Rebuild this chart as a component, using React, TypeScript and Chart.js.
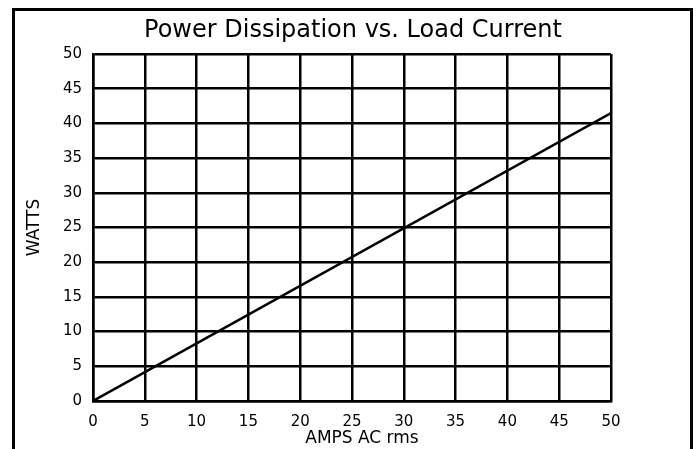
import React, { useEffect, useRef } from "react";
import { Chart, registerables } from "chart.js";

Chart.register(...registerables);

const amps = [0, 50];
const watts = [0, 41.5];
const chartTitle = "Power Dissipation vs. Load Current";
const xTitle = "AMPS AC rms";
const yTitle = "WATTS";

const FONT = "'DejaVu Sans', sans-serif";

const textPlugin = {
  id: "customText",
  afterDraw(chart: any) {
    const { ctx, chartArea } = chart;
    const cx = (chartArea.left + chartArea.right) / 2;
    const cy = (chartArea.top + chartArea.bottom) / 2;
    ctx.save();
    ctx.fillStyle = "#000";
    ctx.textAlign = "center";
    ctx.textBaseline = "middle";
    ctx.font = `24px ${FONT}`;
    ctx.fillText(chartTitle, cx + 1, 31);
    ctx.font = `17px ${FONT}`;
    ctx.fillText(xTitle, cx + 10, 439);
    ctx.translate(35, cy);
    ctx.rotate(-Math.PI / 2);
    ctx.fillText(yTitle, 0, 0);
    ctx.restore();
  },
};

export default function App() {
  const ref = useRef<HTMLCanvasElement | null>(null);
  useEffect(() => {
    if (!ref.current) return;
    const chart = new Chart(ref.current, {
      type: "scatter",
      data: {
        datasets: [
          {
            data: amps.map((a, i) => ({ x: a, y: watts[i] })),
            showLine: true,
            borderColor: "#000",
            borderWidth: 2.5,
            pointRadius: 0,
            fill: false,
          },
        ],
      },
      options: {
        animation: false,
        responsive: false,
        events: [],
        layout: { padding: { left: 0, right: 85, top: 54, bottom: 0 } },
        plugins: { legend: { display: false }, tooltip: { enabled: false }, title: { display: false } },
        scales: {
          x: {
            type: "linear",
            min: 0,
            max: 50,
            afterFit: (s: any) => {
              s.height = 48;
            },
            ticks: { stepSize: 5, color: "#000", font: { family: FONT, size: 15 }, padding: 12, maxRotation: 0 },
            grid: { color: "#000", lineWidth: 2.5, drawTicks: false, tickLength: 0 },
            border: { color: "#000", width: 2.5 },
          },
          y: {
            type: "linear",
            min: 0,
            max: 50,
            afterFit: (s: any) => {
              s.width = 93;
            },
            ticks: { stepSize: 5, color: "#000", font: { family: FONT, size: 15 }, padding: 11 },
            grid: { color: "#000", lineWidth: 2.5, drawTicks: false, tickLength: 0 },
            border: { color: "#000", width: 2.5 },
          },
        },
      },
      plugins: [textPlugin],
    });
    return () => chart.destroy();
  }, []);
  return (
    <div style={{ position: "absolute", left: 0, top: 0, width: 696, height: 449, background: "#fff", overflow: "hidden" }}>
      <div
        style={{
          position: "absolute",
          left: 12,
          top: 8,
          width: 681,
          height: 460,
          boxSizing: "border-box",
          border: "3px solid #000",
        }}
      />
      <canvas ref={ref} width={696} height={449} style={{ position: "absolute", left: 0, top: 0, width: 696, height: 449 }} />
    </div>
  );
}
